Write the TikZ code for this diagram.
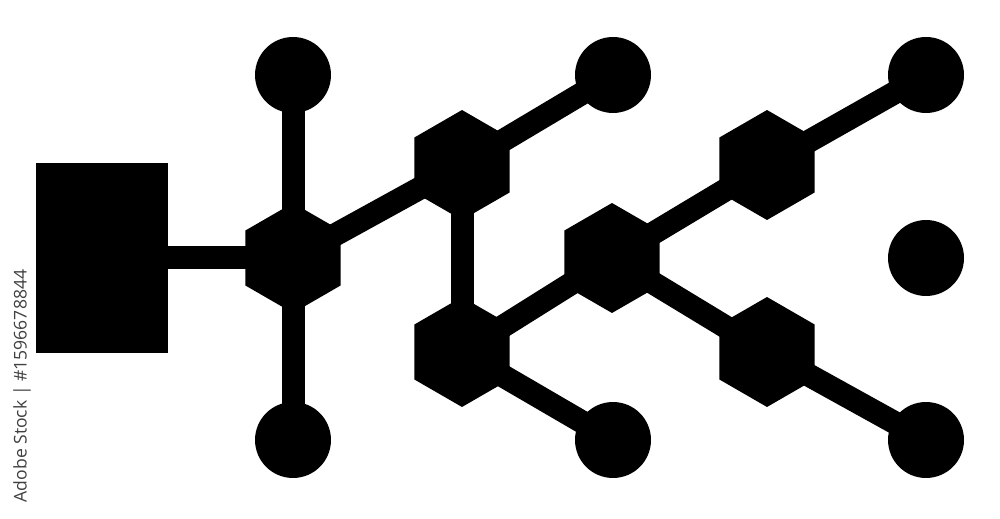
\documentclass[tikz,border=0pt]{standalone}
\usepackage{fontspec}
\newfontfamily\wmfont{Open Sans}
\usetikzlibrary{shapes.geometric}
\begin{document}
\begin{tikzpicture}[x=0.02cm,y=-0.02cm,
  hexnode/.style={regular polygon, regular polygon sides=6, shape border rotate=30, minimum size=2.2cm, inner sep=0pt, fill=black, draw=none},
  dotnode/.style={circle, minimum size=1.52cm, inner sep=0pt, fill=black, draw=none},
  boxnode/.style={rectangle, minimum width=2.64cm, minimum height=3.8cm, inner sep=0pt, fill=black, draw=none},
  link/.style={line width=0.46cm, black}]
\useasboundingbox[fill=white] (0,0) rectangle (1000,519);
% nodes
\node[boxnode] (box) at (102,258) {};
\node[hexnode] (h1) at (293,258) {};
\node[hexnode] (h2) at (462,165) {};
\node[hexnode] (h3) at (462,352) {};
\node[hexnode] (h4) at (612,258) {};
\node[hexnode] (h5) at (767,165) {};
\node[hexnode] (h6) at (767,352) {};
\node[dotnode] (c1) at (293,75) {};
\node[dotnode] (c2) at (293,440) {};
\node[dotnode] (c3) at (613,75) {};
\node[dotnode] (c4) at (613,440) {};
\node[dotnode] (c5) at (926,75) {};
\node[dotnode] (c6) at (926,258) {};
\node[dotnode] (c7) at (926,440) {};
% links
\draw[link] (box.center) -- (h1.center);
\draw[link] (c1.center) -- (h1.center);
\draw[link] (h1.center) -- (c2.center);
\draw[link] (h1.center) -- (h2.center);
\draw[link] (h2.center) -- (c3.center);
\draw[link] (h2.center) -- (h3.center);
\draw[link] (h3.center) -- (h4.center);
\draw[link] (h3.center) -- (c4.center);
\draw[link] (h4.center) -- (h5.center);
\draw[link] (h4.center) -- (h6.center);
\draw[link] (h5.center) -- (c5.center);
\draw[link] (h6.center) -- (c7.center);
% side label
\node[rotate=90, text=black!75, font=\wmfont\fontsize{10}{12}\selectfont, inner sep=0pt] (wm) at (22,386) {Adobe Stock | \#1596678844};
\end{tikzpicture}
\end{document}
